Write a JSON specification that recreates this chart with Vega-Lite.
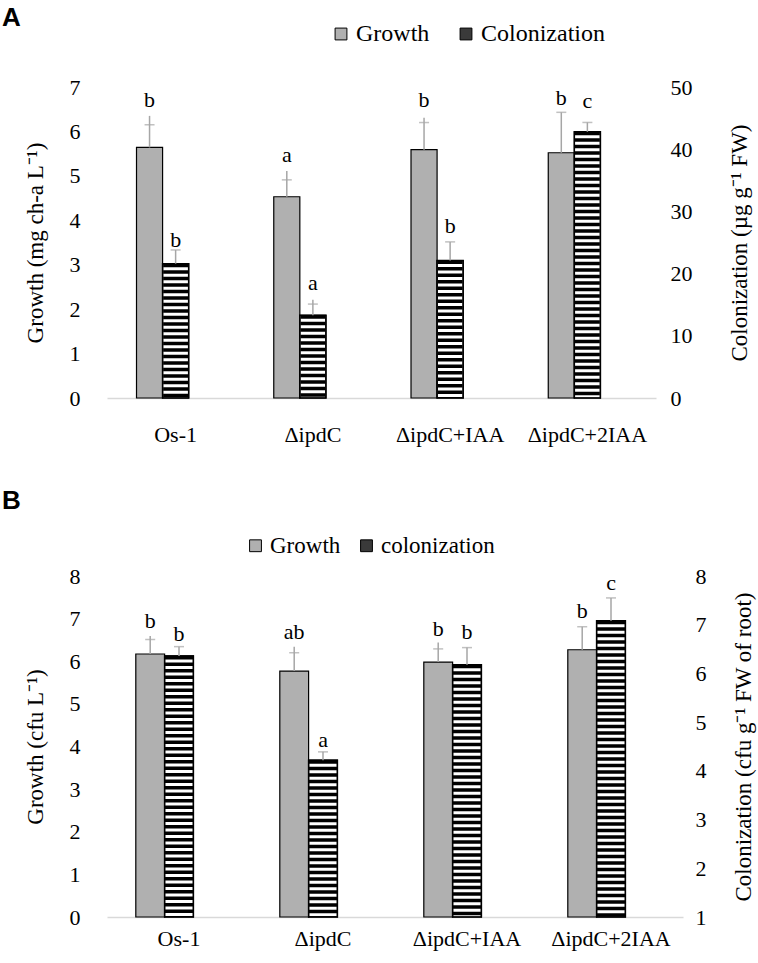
{
  "$schema": "https://vega.github.io/schema/vega-lite/v6.json",
  "padding": {"left": 2, "top": 5, "right": 2, "bottom": 5},
  "background": "#ffffff",
  "config": {
    "font": "Liberation Serif",
    "view": {"stroke": null},
    "axis": {"labelFont": "Liberation Serif", "titleFont": "Liberation Serif", "labelFontSize": 22, "titleFontSize": 23, "labelColor": "#000", "titleColor": "#000", "titleFontWeight": "normal", "ticks": false, "grid": false, "domain": false},
    "legend": {"labelFont": "Liberation Serif", "labelFontSize": 23, "labelColor": "#000", "symbolType": "square", "symbolSize": 140, "symbolStrokeColor": "#000", "symbolStrokeWidth": 1, "direction": "horizontal", "orient": "none", "columnPadding": 20, "labelOffset": 3},
    "title": {"font": "Liberation Sans", "fontWeight": "bold", "fontSize": 26, "anchor": "start", "frame": "bounds", "color": "#000"},
    "concat": {"spacing": 43}
  },
  "datasets": {
    "a": [
      {"cat": "Os-1", "series": "Growth", "val": 5.64, "errTop": 6.35, "cap": 6.15, "lab": "b", "labY": 6.55},
      {"cat": "ΔipdC", "series": "Growth", "val": 4.53, "errTop": 5.11, "cap": 4.91, "lab": "a", "labY": 5.32},
      {"cat": "ΔipdC+IAA", "series": "Growth", "val": 5.59, "errTop": 6.31, "cap": 6.2, "lab": "b", "labY": 6.55},
      {"cat": "ΔipdC+2IAA", "series": "Growth", "val": 5.52, "errTop": 6.43, "cap": 6.43, "lab": "b", "labY": 6.6},
      {"cat": "Os-1", "series": "Colonization", "val": 21.6, "errTop": 23.8, "cap": 23.8, "lab": "b", "labY": 24.2},
      {"cat": "ΔipdC", "series": "Colonization", "val": 13.3, "errTop": 15.8, "cap": 15.1, "lab": "a", "labY": 17.3},
      {"cat": "ΔipdC+IAA", "series": "Colonization", "val": 22.1, "errTop": 25.1, "cap": 25.1, "lab": "b", "labY": 26.6},
      {"cat": "ΔipdC+2IAA", "series": "Colonization", "val": 42.8, "errTop": 44.3, "cap": 44.3, "lab": "c", "labY": 46.6}
    ],
    "b": [
      {"cat": "Os-1", "series": "Growth", "val": 6.17, "errTop": 6.59, "cap": 6.51, "lab": "b", "labY": 6.78},
      {"cat": "ΔipdC", "series": "Growth", "val": 5.77, "errTop": 6.34, "cap": 6.2, "lab": "ab", "labY": 6.52},
      {"cat": "ΔipdC+IAA", "series": "Growth", "val": 5.98, "errTop": 6.44, "cap": 6.29, "lab": "b", "labY": 6.59},
      {"cat": "ΔipdC+2IAA", "series": "Growth", "val": 6.27, "errTop": 6.81, "cap": 6.81, "lab": "b", "labY": 7.02},
      {"cat": "Os-1", "series": "colonization", "val": 6.36, "errTop": 6.55, "cap": 6.55, "lab": "b", "labY": 6.66},
      {"cat": "ΔipdC", "series": "colonization", "val": 4.22, "errTop": 4.39, "cap": 4.39, "lab": "a", "labY": 4.5},
      {"cat": "ΔipdC+IAA", "series": "colonization", "val": 6.18, "errTop": 6.53, "cap": 6.53, "lab": "b", "labY": 6.7},
      {"cat": "ΔipdC+2IAA", "series": "colonization", "val": 7.08, "errTop": 7.55, "cap": 7.55, "lab": "c", "labY": 7.72}
    ]
  },
  "vconcat": [
    {
      "width": 549,
      "height": 311,
      "title": {"text": "A", "dx": -22, "offset": -9},
      "data": {"name": "a"},
      "encoding": {
        "x": {"field": "cat", "type": "nominal", "sort": ["Os-1", "ΔipdC", "ΔipdC+IAA", "ΔipdC+2IAA"], "scale": {"paddingInner": 0.43, "paddingOuter": 0.215}, "axis": {"title": null, "labelAngle": 0, "domain": true, "domainColor": "#d9d9d9", "domainWidth": 1.5, "labelPadding": 26}},
        "xOffset": {"field": "series", "type": "nominal", "sort": null, "scale": {"domain": ["Growth", "Colonization", "pad"], "paddingInner": 0, "paddingOuter": 0}}
      },
      "layer": [
        {
          "transform": [{"filter": "datum.series === 'Growth'"}],
          "encoding": {"y": {"field": "val", "type": "quantitative", "scale": {"domain": [0, 7]}, "axis": {"orient": "left", "values": [0, 1, 2, 3, 4, 5, 6, 7], "title": "Growth (mg ch-a L⁻¹)", "labelPadding": 27, "titlePadding": 22}}},
          "layer": [
            {"mark": {"type": "bar", "stroke": "#000", "strokeWidth": 1.2}, "encoding": {"fill": {"field": "series", "type": "nominal", "scale": {"domain": ["Growth", "Colonization"], "range": ["#b0b0b0", "#3a3a3a"]}, "legend": {"title": null, "legendX": 222, "legendY": -65, "labelFontSize": 24, "columnPadding": 24}}}},
            {"mark": {"type": "rule", "color": "#a6a6a6", "strokeWidth": 1.5}, "encoding": {"y2": {"field": "errTop"}}},
            {"mark": {"type": "tick", "color": "#a6a6a6", "thickness": 1.5, "size": 10}, "encoding": {"y": {"field": "cap", "type": "quantitative", "scale": {"domain": [0, 7]}}}},
            {"mark": {"type": "text", "baseline": "alphabetic", "fontSize": 22, "color": "#000"}, "encoding": {"y": {"field": "labY", "type": "quantitative", "scale": {"domain": [0, 7]}}, "text": {"field": "lab"}}}
          ]
        },
        {
          "transform": [{"filter": "datum.series === 'Colonization'"}],
          "encoding": {"y": {"field": "val", "type": "quantitative", "scale": {"domain": [0, 50]}, "axis": {"orient": "right", "values": [0, 10, 20, 30, 40, 50], "title": "Colonization (µg g⁻¹ FW)", "titleAngle": 270, "titleBaseline": "top", "labelPadding": 14, "titlePadding": 36}}},
          "layer": [
            {"mark": {"type": "bar", "fill": "#ffffff", "stroke": "#000", "strokeWidth": 1.2}},
            {"mark": {"type": "rule", "color": "#000", "strokeWidth": 25, "strokeDash": [3.5, 3]}, "encoding": {"y2": {"datum": 0}}},
            {"mark": {"type": "bar", "fill": "#ffffff", "fillOpacity": 0, "stroke": "#000", "strokeWidth": 1.5}},
            {"mark": {"type": "rule", "color": "#a6a6a6", "strokeWidth": 1.5}, "encoding": {"y2": {"field": "errTop"}}},
            {"mark": {"type": "tick", "color": "#a6a6a6", "thickness": 1.5, "size": 10}, "encoding": {"y": {"field": "cap", "type": "quantitative", "scale": {"domain": [0, 50]}}}},
            {"mark": {"type": "text", "baseline": "alphabetic", "fontSize": 22, "color": "#000"}, "encoding": {"y": {"field": "labY", "type": "quantitative", "scale": {"domain": [0, 50]}}, "text": {"field": "lab"}}}
          ]
        }
      ],
      "resolve": {"scale": {"y": "independent"}}
    },
    {
      "width": 576,
      "height": 341,
      "title": {"text": "B", "dx": -22, "offset": 20},
      "data": {"name": "b"},
      "encoding": {
        "x": {"field": "cat", "type": "nominal", "sort": ["Os-1", "ΔipdC", "ΔipdC+IAA", "ΔipdC+2IAA"], "scale": {"paddingInner": 0.4, "paddingOuter": 0.2}, "axis": {"title": null, "labelAngle": 0, "domain": true, "domainColor": "#d9d9d9", "domainWidth": 1.5, "labelPadding": 11}},
        "xOffset": {"field": "series", "type": "nominal", "sort": null, "scale": {"domain": ["Growth", "colonization", "pad"], "paddingInner": 0, "paddingOuter": 0}}
      },
      "layer": [
        {
          "transform": [{"filter": "datum.series === 'Growth'"}],
          "encoding": {"y": {"field": "val", "type": "quantitative", "scale": {"domain": [0, 8]}, "axis": {"orient": "left", "values": [0, 1, 2, 3, 4, 5, 6, 7, 8], "title": "Growth (cfu L⁻¹)", "labelPadding": 27, "titlePadding": 22}}},
          "layer": [
            {"mark": {"type": "bar", "stroke": "#000", "strokeWidth": 1.2}, "encoding": {"fill": {"field": "series", "type": "nominal", "scale": {"domain": ["Growth", "colonization"], "range": ["#b0b0b0", "#3a3a3a"]}, "legend": {"title": null, "legendX": 137, "legendY": -42, "columnPadding": 14}}}},
            {"mark": {"type": "rule", "color": "#a6a6a6", "strokeWidth": 1.5}, "encoding": {"y2": {"field": "errTop"}}},
            {"mark": {"type": "tick", "color": "#a6a6a6", "thickness": 1.5, "size": 10}, "encoding": {"y": {"field": "cap", "type": "quantitative", "scale": {"domain": [0, 8]}}}},
            {"mark": {"type": "text", "baseline": "alphabetic", "fontSize": 22, "color": "#000"}, "encoding": {"y": {"field": "labY", "type": "quantitative", "scale": {"domain": [0, 8]}}, "text": {"field": "lab"}}}
          ]
        },
        {
          "transform": [{"filter": "datum.series === 'colonization'"}],
          "encoding": {"y": {"field": "val", "type": "quantitative", "scale": {"domain": [1, 8], "zero": false}, "axis": {"orient": "right", "values": [1, 2, 3, 4, 5, 6, 7, 8], "title": "Colonization (cfu g⁻¹ FW of root)", "titleAngle": 270, "titleBaseline": "top", "labelPadding": 12, "titlePadding": 26}}},
          "layer": [
            {"mark": {"type": "bar", "fill": "#ffffff", "stroke": "#000", "strokeWidth": 1.2}, "encoding": {"y2": {"datum": 1}}},
            {"mark": {"type": "rule", "color": "#000", "strokeWidth": 28, "strokeDash": [3.5, 3]}, "encoding": {"y2": {"datum": 1}}},
            {"mark": {"type": "bar", "fill": "#ffffff", "fillOpacity": 0, "stroke": "#000", "strokeWidth": 1.5}, "encoding": {"y2": {"datum": 1}}},
            {"mark": {"type": "rule", "color": "#a6a6a6", "strokeWidth": 1.5}, "encoding": {"y2": {"field": "errTop"}}},
            {"mark": {"type": "tick", "color": "#a6a6a6", "thickness": 1.5, "size": 10}, "encoding": {"y": {"field": "cap", "type": "quantitative", "scale": {"domain": [1, 8], "zero": false}}}},
            {"mark": {"type": "text", "baseline": "alphabetic", "fontSize": 22, "color": "#000"}, "encoding": {"y": {"field": "labY", "type": "quantitative", "scale": {"domain": [1, 8], "zero": false}}, "text": {"field": "lab"}}}
          ]
        }
      ],
      "resolve": {"scale": {"y": "independent"}}
    }
  ],
  "resolve": {"scale": {"fill": "independent", "xOffset": "independent"}, "legend": {"fill": "independent"}}
}
